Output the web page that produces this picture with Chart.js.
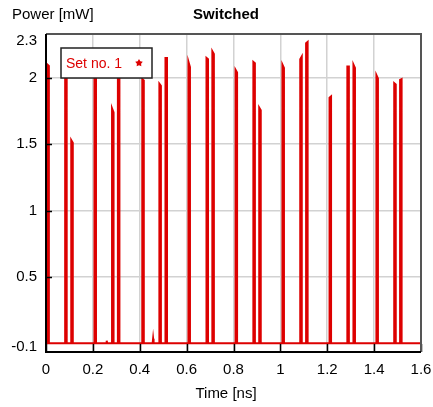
<!DOCTYPE html>
<html>
<head>
<meta charset="utf-8">
<script src="https://cdn.jsdelivr.net/npm/chart.js@4/dist/chart.umd.min.js"></script>
<style>
  body { margin: 0; background: #fff; }
  #wrap { width: 433px; height: 407px; }
</style>
</head>
<body>
<div id="wrap"><canvas id="chart" width="433" height="407"></canvas></div>
<script>
// pulse centres (ns) and peak power at left / right edge of each pulse (mW)
const pulseTimes = [0.009, 0.085, 0.111, 0.210, 0.285, 0.310, 0.414, 0.487, 0.513, 0.611, 0.688, 0.713,
                    0.812, 0.888, 0.913, 1.012, 1.088, 1.113, 1.213, 1.289, 1.315, 1.413, 1.489, 1.514];
const pulseLeft  = [2.10, 2.06, 1.53, 2.12, 1.77, 2.08, 1.99, 1.955, 2.15, 2.12, 2.15, 2.20,
                    2.06, 2.12, 1.775, 2.10, 2.14, 2.26, 1.85, 2.085, 2.10, 2.02, 1.96, 1.985];
const pulseRight = [2.09, 2.05, 1.51, 2.10, 1.74, 2.06, 1.98, 1.94, 2.15, 2.08, 2.14, 2.18,
                    2.04, 2.11, 1.755, 2.075, 2.16, 2.27, 1.86, 2.085, 2.075, 1.995, 1.95, 1.99];
// small spurious bumps on the baseline
const blipTimes = [0.259, 0.457];
const blipHeights = [0.02, 0.035];

const xTicks = [0, 0.2, 0.4, 0.6, 0.8, 1, 1.2, 1.4, 1.6];
const yGrid = [0.5, 1, 1.5, 2];
const yEndLabels = { low: '-0.1', high: '2.3' };

const PULSE_W = 0.0065;
const RED = 'rgb(221,0,0)';
const FONT = '"Liberation Sans", Arial, sans-serif';

// build the trace from the arrays above
const events = [];
pulseTimes.forEach((t, i) => events.push({ t, kind: 'pulse', l: pulseLeft[i], r: pulseRight[i] }));
blipTimes.forEach((t, i) => events.push({ t, kind: 'blip', h: blipHeights[i] }));
events.sort((a, b) => a.t - b.t);

const trace = [{ x: 0, y: 0 }];
events.forEach(e => {
  if (e.kind === 'pulse') {
    trace.push({ x: e.t - PULSE_W / 2, y: 0 });
    trace.push({ x: e.t - PULSE_W / 2, y: e.l });
    trace.push({ x: e.t + PULSE_W / 2, y: e.r });
    trace.push({ x: e.t + PULSE_W / 2, y: 0 });
  } else {
    trace.push({ x: e.t - 0.002, y: 0 });
    trace.push({ x: e.t, y: e.h });
    trace.push({ x: e.t + 0.002, y: 0 });
  }
});
trace.push({ x: 1.6, y: 0 });

const Y_MIN = -0.065, Y_MAX = 2.33;
const Y_LOW_LABEL_AT = -0.03, Y_HIGH_LABEL_AT = 2.28;

const framePlugin = {
  id: 'frame',
  afterDraw(chart) {
    const { ctx, chartArea: a, scales } = chart;
    ctx.save();
    // inward tick marks
    ctx.strokeStyle = '#000';
    ctx.lineWidth = 1.5;
    xTicks.forEach(v => {
      const x = Math.round(scales.x.getPixelForValue(v)) + 0.5;
      ctx.beginPath(); ctx.moveTo(x, a.bottom); ctx.lineTo(x, a.bottom - 8); ctx.stroke();
    });
    yGrid.forEach(v => {
      const y = Math.round(scales.y.getPixelForValue(v)) + 0.5;
      ctx.beginPath(); ctx.moveTo(a.left, y); ctx.lineTo(a.left + 6, y); ctx.stroke();
    });
    // frame
    ctx.lineWidth = 2;
    ctx.strokeStyle = '#555';
    ctx.beginPath();
    ctx.moveTo(a.left, a.top); ctx.lineTo(a.right, a.top); ctx.lineTo(a.right, a.bottom);
    ctx.stroke();
    ctx.strokeStyle = '#000';
    ctx.beginPath();
    ctx.moveTo(a.left, a.top); ctx.lineTo(a.left, a.bottom); ctx.lineTo(a.right, a.bottom);
    ctx.stroke();

    // titles
    ctx.fillStyle = '#000';
    ctx.textBaseline = 'middle';
    ctx.font = '15px ' + FONT;
    ctx.textAlign = 'left';
    ctx.fillText('Power [mW]', 12, 15);
    ctx.font = 'bold 15px ' + FONT;
    ctx.textAlign = 'center';
    ctx.fillText('Switched', 226, 15);
    ctx.font = '15px ' + FONT;
    ctx.fillText('Time [ns]', 226, 394);

    // legend box
    const lx = 61, ly = 48, lw = 91, lh = 30;
    ctx.fillStyle = '#fff';
    ctx.fillRect(lx, ly, lw, lh);
    ctx.strokeStyle = '#222';
    ctx.lineWidth = 1.5;
    ctx.strokeRect(lx, ly, lw, lh);
    ctx.fillStyle = RED;
    ctx.font = '14px ' + FONT;
    ctx.textAlign = 'left';
    ctx.fillText('Set no. 1', 66, ly + lh / 2 + 1);
    // marker
    const mx = 139, my = ly + lh / 2;
    ctx.beginPath();
    for (let k = 0; k < 10; k++) {
      const rr = k % 2 === 0 ? 4 : 2.2;
      const ang = -Math.PI / 2 + k * Math.PI / 5;
      const px = mx + rr * Math.cos(ang), py = my + rr * Math.sin(ang);
      if (k === 0) ctx.moveTo(px, py); else ctx.lineTo(px, py);
    }
    ctx.closePath();
    ctx.fill();
    ctx.restore();
  }
};

new Chart(document.getElementById('chart'), {
  type: 'line',
  data: {
    datasets: [{
      label: 'Set no. 1',
      data: trace,
      borderColor: RED,
      borderWidth: 2,
      pointRadius: 0,
      tension: 0,
      fill: false
    }]
  },
  options: {
    responsive: false,
    animation: false,
    parsing: true,
    layout: { padding: { top: 34, left: 0, right: 12, bottom: 0 } },
    plugins: {
      legend: { display: false },
      title: { display: false },
      tooltip: { enabled: false }
    },
    scales: {
      x: {
        type: 'linear',
        min: 0,
        max: 1.6,
        afterFit(scale) {
          scale.height = 55;
          scale.paddingLeft = 0;
          scale.paddingRight = 0;
        },
        afterBuildTicks(scale) { scale.ticks = xTicks.map(v => ({ value: v })); },
        border: { display: false },
        grid: {
          drawTicks: false,
          lineWidth: 1.5,
          color: c => (c.tick && c.tick.value > 0 && c.tick.value < 1.6) ? '#d2d2d2' : 'transparent'
        },
        ticks: {
          padding: 9,
          color: '#000',
          maxRotation: 0,
          autoSkip: false,
          font: { family: FONT, size: 15 },
          callback: v => String(Number(v.toFixed(1)))
        }
      },
      y: {
        type: 'linear',
        min: Y_MIN,
        max: Y_MAX,
        afterFit(scale) {
          scale.width = 46;
          scale.paddingTop = 0;
          scale.paddingBottom = 0;
        },
        afterBuildTicks(scale) {
          scale.ticks = [Y_LOW_LABEL_AT].concat(yGrid, [Y_HIGH_LABEL_AT]).map(v => ({ value: v }));
        },
        border: { display: false },
        grid: {
          drawTicks: false,
          lineWidth: 1.5,
          color: c => (c.tick && yGrid.includes(c.tick.value)) ? '#d2d2d2' : 'transparent'
        },
        ticks: {
          padding: 9,
          color: '#000',
          autoSkip: false,
          font: { family: FONT, size: 15 },
          callback: v => v === Y_LOW_LABEL_AT ? yEndLabels.low : (v === Y_HIGH_LABEL_AT ? yEndLabels.high : String(v))
        }
      }
    }
  },
  plugins: [framePlugin]
});
</script>
</body>
</html>
